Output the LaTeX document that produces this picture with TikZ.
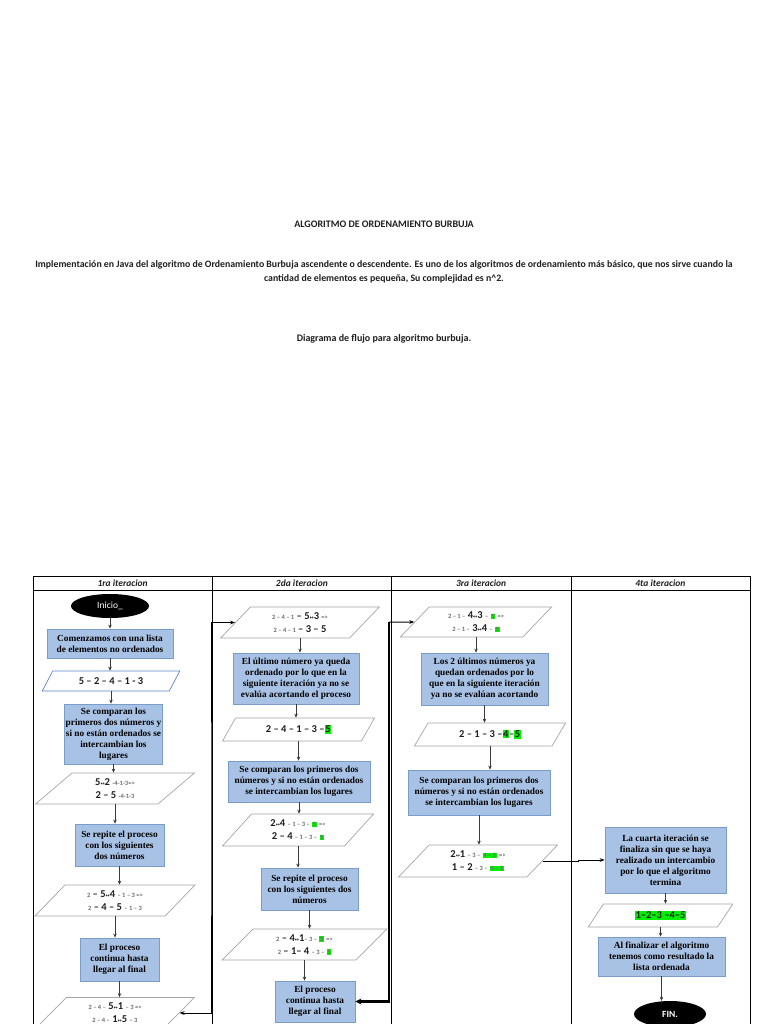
\documentclass[tikz,border=0pt]{standalone}
\usepackage{fontspec}
\setmainfont{Liberation Serif}
\setsansfont{Carlito}
\newfontfamily\swapfont{DejaVu Sans}
\usetikzlibrary{arrows.meta,shapes.geometric}
\definecolor{ink}{HTML}{1F1F1F}
\definecolor{boxfill}{HTML}{A8C2E5}
\definecolor{boxline}{HTML}{7A9CCB}
\definecolor{pgray}{HTML}{A6A6A6}
\definecolor{pblue}{HTML}{5B87C5}
\definecolor{numgray}{HTML}{6F6F6F}
\definecolor{hlgreen}{HTML}{00F000}
\definecolor{flowgray}{HTML}{3A3A3A}
\newcommand{\ColW}{179.25}
% small gray digits, swap mark and green mark
\newcommand{\sm}[1]{{\fontsize{6.5}{8}\selectfont\color{numgray}#1}}
\newcommand{\sw}{{\swapfont\fontsize{5}{6}\selectfont ↔}}
\newcommand{\hlg}[1]{{\setlength{\fboxsep}{0.6pt}\colorbox{hlgreen}{#1}}}

\begin{document}
\begin{tikzpicture}[x=1pt, y=-1pt, ink,
    grid/.style={draw=black, line width=0.8pt},
    hdr/.style={font=\sffamily\bfseries\itshape\fontsize{9.5}{11}\selectfont, text=ink},
    term/.style={ellipse, fill=black, text=white, inner sep=0pt, font=\sffamily\fontsize{9.5}{11}\selectfont},
    stepbox/.style={draw=boxline, fill=boxfill, line width=0.8pt, align=center, inner sep=1pt, text=black, font=\rmfamily\bfseries\fontsize{9.3}{11}\selectfont},
    datap/.style={trapezium, trapezium left angle=50, trapezium right angle=130, trapezium stretches=true, draw=#1, fill=white, line width=0.7pt, inner sep=0pt, align=center, font=\sffamily\bfseries\fontsize{10.5}{13}\selectfont},
    flow/.style={draw=flowgray, line width=0.6pt, -{Stealth[length=4pt, width=3.5pt]}},
    link/.style={draw=black, line width=1pt},
  ]
% --- Page ----------------------------------------------------------------------
\useasboundingbox[fill=white] (0,0) rectangle (768,1024);

% --- Heading text ----------------------------------------------------------------
\node[font=\sffamily\bfseries\fontsize{10}{12}\selectfont] (title) at (384,224) {ALGORITMO DE ORDENAMIENTO BURBUJA};
\node[align=center, font=\sffamily\bfseries\fontsize{9.8}{14}\selectfont] (intro) at (384,272)
  {Implementación en Java del algoritmo de Ordenamiento Burbuja ascendente o descendente. Es uno de los algoritmos de ordenamiento más básico, que nos sirve cuando la\\
   cantidad de elementos es pequeña, Su complejidad es n\textasciicircum 2.};
\node[font=\sffamily\bfseries\fontsize{10}{12}\selectfont] (sub) at (384,339) {Diagrama de flujo para algoritmo burbuja.};

% --- Table: one column per iteration ----------------------------------------------
\draw[grid] (33,1030) |- (750,576) -- (750,1030);
\draw[grid] (33,590) -- (750,590);
\foreach \x in {212,391,571}
  \draw[grid] (\x,576) -- (\x,1030);
\foreach \lbl [count=\i] in {1ra,2da,3ra,4ta}
  \node[hdr] (h\i) at ({33+(\i-0.5)*\ColW},583) {\lbl\ iteracion};

% --- Start and end ---------------------------------------------------------------
\node[term, minimum width=78pt, minimum height=24pt] (c1start) at (110,606) {Inicio\_};
\node[term, minimum width=72pt, minimum height=26pt, font=\sffamily\bfseries\fontsize{9.5}{11}\selectfont] (c4end) at (670,1014) {FIN.};

% --- Process boxes: name/x/y/width/height/text --------------------------------------
\foreach \nm/\x/\y/\w/\h/\txt in {
  c1b1/110/643.5/126/29/{Comenzamos con una lista\\de elementos no ordenados},
  c1b2/113.5/734/93/60/{Se comparan los\\primeros dos números y\\si no están ordenados se\\intercambian los\\lugares},
  c1b3/119.5/845/89/42/{Se repite el proceso\\con los siguientes\\dos números},
  c1b4/119.5/959.5/79/43/{El proceso\\continua hasta\\llegar al final},
  c2b1/296/678.5/126/51/{El último número ya queda\\ordenado por lo que en la\\siguiente iteración ya no se\\evalúa acortando el proceso},
  c2b2/299/781.5/142/41/{Se comparan los primeros dos\\números y si no están ordenados\\se intercambian los lugares},
  c2b3/309.5/889/97/42/{Se repite el proceso\\con los siguientes dos\\números},
  c2b4/315/1001.5/80/41/{El proceso\\continua hasta\\llegar al final},
  c3b1/484.5/679/127/52/{Los 2 últimos números ya\\quedan ordenados por lo\\que en la siguiente iteración\\ya no se evalúan acortando},
  c3b2/479/792.5/142/45/{Se comparan los primeros dos\\números y si no están ordenados\\se intercambian los lugares},
  c4b1/665.5/860/121/66/{La cuarta iteración se\\finaliza sin que se haya\\realizado un intercambio\\por lo que el algoritmo\\termina},
  c4b2/661.5/956.5/127/39/{Al finalizar el algoritmo\\tenemos como resultado la\\lista ordenada}}
  \node[stepbox, minimum width=\w pt, minimum height=\h pt] (\nm) at (\x,\y) {\txt};

% --- Data (parallelograms): name/x/y/width/height/border/text ------------------------
\foreach \nm/\x/\y/\w/\h/\k/\txt in {
  c1p1/111/681/138/20/pblue/{5 – 2 – 4 – 1 - 3},
  c1p2/115/788.5/160/31/pgray/{5\sw2 \sm{-4-1-3=>}\\2 – 5 \sm{-4-1-3}},
  c1p3/115/900.5/160/31/pgray/{\sm{2} – 5\sw4 \sm{– 1 – 3 =>}\\\sm{2} – 4 – 5 \sm{– 1 – 3}},
  c1p4/115/1013/160/31/pgray/{\sm{2 – 4 –} 5\sw1 \sm{– 3 =>}\\\sm{2 – 4 –} 1\sw5 \sm{– 3}},
  c2p1/300/622.5/160/31/pgray/{\sm{2 – 4 – 1} – 5\sw3 \sm{=>}\\\sm{2 – 4 – 1} – 3 – 5},
  c2p2/298.5/729.5/153/23/pgray/{2 – 4 – 1 – 3 –\hlg{5}},
  c2p3/298/830/152/32/pgray/{2\sw4 \sm{– 1 – 3 –} \hlg{\sm{5}} \sm{=>}\\2 – 4 \sm{– 1 – 3 –} \hlg{\sm{5}}},
  c2p4/304.5/944.5/165/31/pgray/{\sm{2} – 4\sw1\sm{– 3 –} \hlg{\sm{5}} \sm{=>}\\\sm{2} – 1– 4 \sm{– 3 –} \hlg{\sm{5}}},
  c3p1/476/622/152/30/pgray/{\sm{2 – 1 –} 4\sw3 \sm{–} \hlg{\sm{5}} \sm{=>}\\\sm{2 – 1 –} 3\sw4 \sm{–} \hlg{\sm{5}}},
  c3p2/490/734.5/152/23/pgray/{2 – 1 – 3 –\hlg{4}–\hlg{5}},
  c3p3/478/861/160/32/pgray/{2\sw1 \sm{– 3 –} \hlg{\sm{4 – 5}} \sm{=>}\\1 – 2 \sm{– 3 –} \hlg{\sm{4 – 5}}},
  c4p1/660.5/915.5/145/23/pgray/{\hlg{1–2–3 –4–5}}}
  \node[datap=\k, minimum width=\w pt, minimum height=\h pt] (\nm) at (\x,\y) {\txt};

% --- Flow inside each column ---------------------------------------------------------
\foreach \a/\b in {c1start/c1b1, c1b1/c1p1, c1p1/c1b2, c1b2/c1p2, c1p2/c1b3, c1b3/c1p3, c1p3/c1b4, c1b4/c1p4,
    c2p1/c2b1, c2b1/c2p2, c2p2/c2b2, c2b2/c2p3, c2p3/c2b3, c2b3/c2p4, c2p4/c2b4,
    c3p1/c3b1, c3b1/c3p2, c3p2/c3b2, c3b2/c3p3,
    c4b1/c4p1, c4p1/c4b2, c4b2/c4end}
  \draw[flow] (\a.south) -- (\a.south |- \b.north);

% --- Jumps from one iteration to the next ----------------------------------------------
\coordinate (j1) at (211,820);
\coordinate (j2) at (389,622);
\coordinate (j3) at (578,860);
\draw[link, {Stealth[length=5pt]}-{Stealth[length=5pt]}] (c1p4.east) -| (j1) |- (c2p1.west);
\draw[link, line width=2.5pt, {Stealth[length=6pt, width=6pt]}-] (c2b4.east) -| (j2);
\draw[link, -{Stealth[length=5pt]}] (j2) -- (c3p1.west);
\draw[link, -{Stealth[length=5pt]}] (c3p3.east) -| (j3) |- (c4b1.west);
\end{tikzpicture}
\end{document}
